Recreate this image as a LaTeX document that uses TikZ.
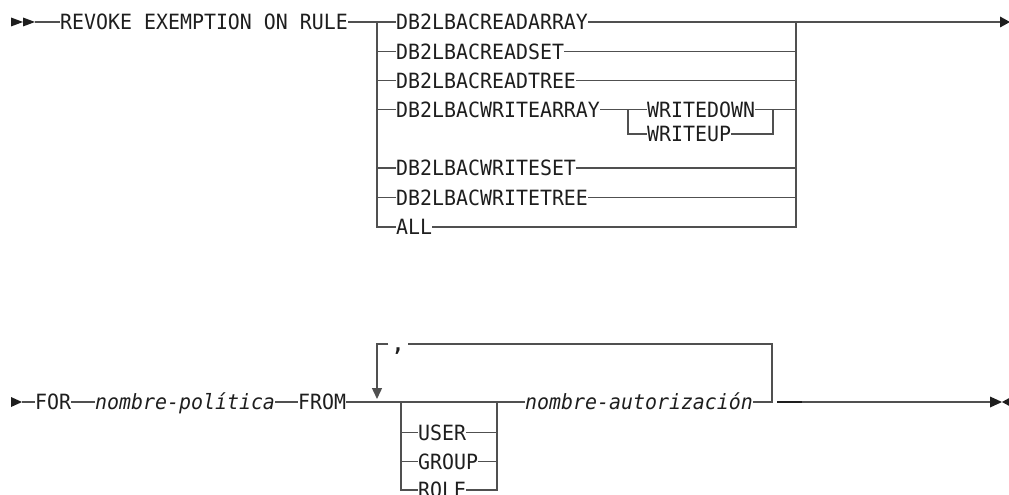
\documentclass[tikz,border=0pt]{standalone}
\usepackage{fontspec}
\newfontfamily\rrfont[FakeStretch=0.948]{DejaVu Sans Mono}
\usetikzlibrary{arrows.meta}
\definecolor{linegray}{RGB}{80,80,80}
\definecolor{txt}{RGB}{30,30,30}
\tikzset{
  rail/.style={line width=1.4pt, draw=linegray},
  darkrail/.style={line width=1.6pt, draw=txt},
  kw/.style={font=\rrfont\fontsize{21}{22}\selectfont, text=txt, inner sep=0pt,
             text height=15.3pt, text depth=0pt, anchor=west},
  var/.style={kw, font=\rrfont\itshape\fontsize{21}{22}\selectfont},
  tri/.style={fill=txt}
}
\begin{document}
\begin{tikzpicture}[x=1pt,y=-1pt]
\useasboundingbox (0,0) rectangle (1009,495);

% ---------- row 1 ----------
\fill[tri] (11,17.5) -- (23,22) -- (11,26.5) -- cycle;
\fill[tri] (23,17.5) -- (35,22) -- (23,26.5) -- cycle;
\coordinate (s1) at (35,22);
\node[kw] (rev) at (60,22) {REVOKE EXEMPTION ON RULE};

\coordinate (jL) at (377,22);
\coordinate (jR) at (796,22);
\coordinate (e1) at (1001,22);

\node[kw] (ra)  at (396,22)    {DB2LBACREADARRAY};
\node[kw] (rs)  at (396,51.5)  {DB2LBACREADSET};
\node[kw] (rt)  at (396,80.5)  {DB2LBACREADTREE};
\node[kw] (wa)  at (396,109.5) {DB2LBACWRITEARRAY};
\node[kw] (ws)  at (396,168)   {DB2LBACWRITESET};
\node[kw] (wt)  at (396,197.5) {DB2LBACWRITETREE};
\node[kw] (all) at (396,227)   {ALL};

\coordinate (sL) at (628,109.5);
\coordinate (sR) at (773,109.5);
\node[kw] (wd) at (647,109.5) {WRITEDOWN};
\node[kw] (wu) at (647,134)   {WRITEUP};

\draw[rail] (s1) -- (rev.west);
\draw[rail] (rev.east) -- (ra.west);
\draw[rail] (ra.east) -- (jR) -- (e1);
\fill[tri] (1000,16.5) -- (1010,22) -- (1000,27.5) -- cycle;

\draw[rail] (jL) |- (all.west);
\draw[rail] (jL|-rs.west) -- (rs.west);
\draw[rail] (jL|-rt.west) -- (rt.west);
\draw[rail] (jL|-wa.west) -- (wa.west);
\draw[rail] (jL|-ws.west) -- (ws.west);
\draw[rail] (jL|-wt.west) -- (wt.west);

\draw[rail] (jR) |- (all.east);
\draw[rail] (rs.east) -- (jR|-rs.east);
\draw[rail] (rt.east) -- (jR|-rt.east);
\draw[rail] (ws.east) -- (jR|-ws.east);
\draw[rail] (wt.east) -- (jR|-wt.east);

\draw[rail] (wa.east) -- (wd.west);
\draw[rail] (sL) |- (wu.west);
\draw[rail] (wd.east) -- (jR|-wd.east);
\draw[rail] (sR) |- (wu.east);

% ---------- row 2 ----------
\fill[tri] (11,397) -- (22,402) -- (11,407) -- cycle;
\coordinate (s2) at (22,402);
\node[kw]  (for)  at (35,402)  {FOR};
\node[var] (pol)  at (95,402)  {nombre-política};
\node[kw]  (from) at (298,402) {FROM};

\coordinate (oL) at (401,402);
\coordinate (oR) at (497,402);
\node[kw] (user)  at (418,432.5) {USER};
\node[kw] (group) at (418,461.5) {GROUP};
\node[kw] (role)  at (418,490)   {ROLE};

\node[var] (auth) at (525,402) {nombre-autorización};

\coordinate (rB) at (772,402);
\coordinate (rT) at (772,344);
\coordinate (lT) at (377,344);
\coordinate (lA) at (377,399);
\node[font=\rrfont\bfseries\fontsize{21}{22}\selectfont, text=txt, inner sep=0pt,
      text height=3pt, text depth=3pt, minimum width=19pt, anchor=base] (cm) at (398,351.5) {,};

\draw[rail] (s2) -- (for.west);
\draw[rail] (for.east) -- (pol.west);
\draw[rail] (pol.east) -- (from.west);
\draw[rail] (from.east) -- (auth.west);

\draw[rail] (oL) |- (role.west);
\draw[rail] (oL|-user.west) -- (user.west);
\draw[rail] (oL|-group.west) -- (group.west);
\draw[rail] (oR) |- (role.east);
\draw[rail] (user.east) -- (oR|-user.east);
\draw[rail] (group.east) -- (oR|-group.east);

\draw[rail] (auth.east) -- (rB) -- (rT) -- (cm.east|-rT);
\draw[rail, -{Triangle[width=10pt,length=11pt]}] (cm.west|-rT) -- (lT) -- (lA);

\coordinate (d1) at (777,402);
\coordinate (d2) at (802,402);
\coordinate (e2) at (991,402);
\draw[darkrail] (d1) -- (d2);
\draw[rail] (d2) -- (e2);
\fill[tri] (990,396.5) -- (1002,402) -- (990,407.5) -- cycle;
\fill[tri] (1012,396.5) -- (1002,402) -- (1012,407.5) -- cycle;
\end{tikzpicture}
\end{document}
